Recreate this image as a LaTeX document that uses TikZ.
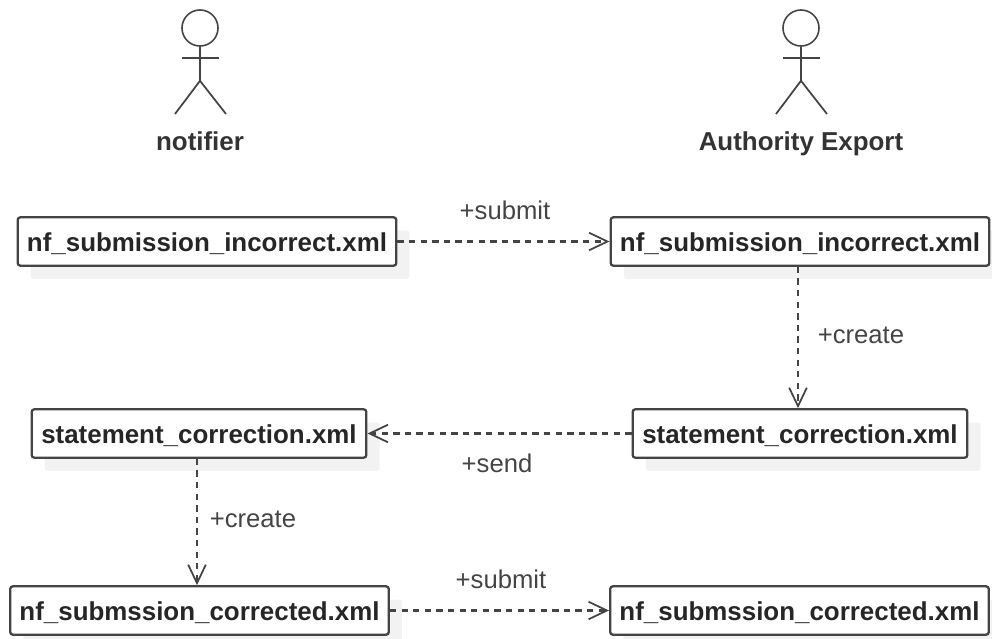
\documentclass[tikz,border=0pt]{standalone}
\usepackage{fontspec}
\setmainfont{Liberation Sans}
\usetikzlibrary{arrows.meta,shadows}
\definecolor{inkgray}{HTML}{444444}
\tikzset{
	filebox/.style={draw=inkgray, line width=1.3pt, fill=white, rounded corners=1.5pt, minimum height=27.5pt, inner sep=0pt, text height=14.8pt, text depth=3pt, font=\bfseries\fontsize{14.75}{16}\selectfont, text=black!85,
		drop shadow={shadow xshift=7.5pt, shadow yshift=-7.5pt, fill=black!5, opacity=1}},
	flow/.style={draw=inkgray, line width=1.2pt, dash pattern=on 3.6pt off 3pt, -{Straight Barb[length=10.5pt,width=10pt,line width=1pt]}},
	flowlabel/.style={font=\fontsize{14.6}{16}\selectfont, text=inkgray},
	actorname/.style={text height=13.2pt, text depth=3pt, font=\bfseries\fontsize{14.75}{16}\selectfont, text=black!80},
	actorhead/.style={circle, draw=inkgray, line width=0.9pt, minimum size=20.5pt, inner sep=0pt},
	actorline/.style={draw=inkgray, line width=1pt}
}
\begin{document}
\begin{tikzpicture}[x=0.02cm, y=-0.02cm]
	\useasboundingbox (0,0) rectangle (992,639);
	% Draw the actors
	\node[actorhead] (notifierhead) at (200,28) {};
	\draw[actorline] (notifierhead.south) -- ++(0,34) coordinate (notifierhip);
	\draw[actorline] (182,58) -- (219,58);
	\draw[actorline] (175,114) -- (notifierhip) -- (226,114);
	\node[actorname] (notifier) at (200,142) {notifier};
	\node[actorhead] (authorityhead) at (801,28) {};
	\draw[actorline] (authorityhead.south) -- ++(0,34) coordinate (authorityhip);
	\draw[actorline] (783,58) -- (820,58);
	\draw[actorline] (776,114) -- (authorityhip) -- (827,114);
	\node[actorname] (authority) at (801,142) {Authority Export};
	% Draw the files
	\node[filebox, minimum width=215.5pt] (submitleft) at (207,241.5) {nf\_submission\_incorrect.xml};
	\node[filebox, minimum width=215.5pt] (submitright) at (800,241.5) {nf\_submission\_incorrect.xml};
	\node[filebox, minimum width=190.5pt] (statementright) at (800,433.5) {statement\_correction.xml};
	\node[filebox, minimum width=190.5pt] (statementleft) at (199,433.5) {statement\_correction.xml};
	\node[filebox, minimum width=215.5pt] (correctedleft) at (199.5,610.5) {nf\_submssion\_corrected.xml};
	\node[filebox, minimum width=215.5pt] (correctedright) at (799.5,610.5) {nf\_submssion\_corrected.xml};
	% Draw the flows
	\draw[flow] (submitleft) -- (submitright);
	\draw[flow] (submitright.south -| 798,0) -- (statementright.north -| 798,0);
	\draw[flow] (statementright) -- (statementleft);
	\draw[flow] (statementleft.south -| 197,0) -- (correctedleft.north -| 197,0);
	\draw[flow] (correctedleft) -- (correctedright);
	% Labels
	\node[flowlabel] (submittop) at (505,210) {+submit};
	\node[flowlabel] (createright) at (861,335) {+create};
	\node[flowlabel] (sendlabel) at (497,463) {+send};
	\node[flowlabel] (createleft) at (253,519) {+create};
	\node[flowlabel] (submitbottom) at (501,579) {+submit};
\end{tikzpicture}
\end{document}
